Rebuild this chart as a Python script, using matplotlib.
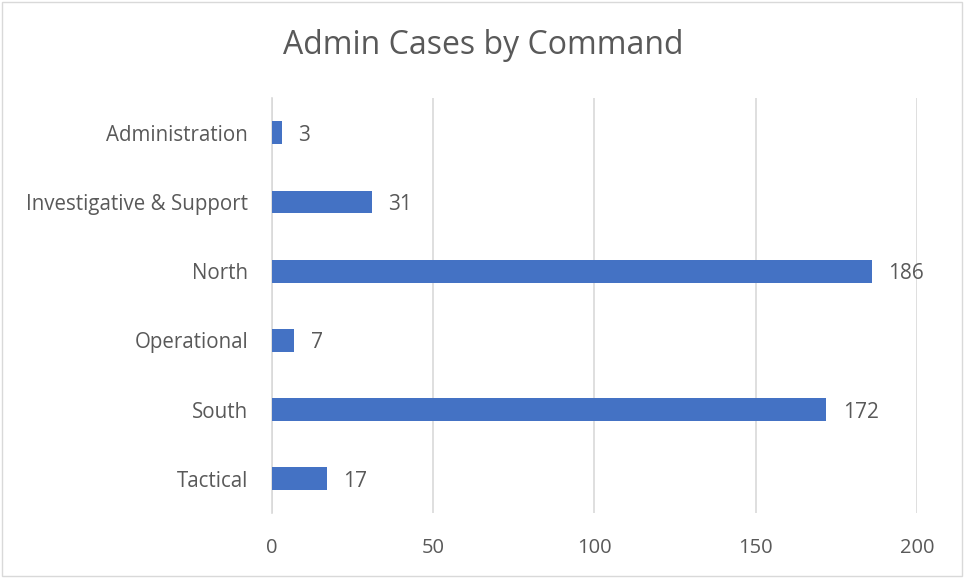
import matplotlib.pyplot as plt
from matplotlib.patches import Rectangle

plt.rcParams['font.family'] = ['Open Sans', 'DejaVu Sans']

commands = ['Administration', 'Investigative & Support', 'North', 'Operational', 'South', 'Tactical']
cases = [3, 31, 186, 7, 172, 17]
x_ticks = [0, 50, 100, 150, 200]

text_color = '#595959'
bar_color = '#4472C4'
grid_color = '#D9D9D9'

fig = plt.figure(figsize=(9.64, 5.78), dpi=100)
ax = fig.add_axes([0.282, 0.112, 0.669, 0.718])

# frame around the whole chart, like the Excel chart area
fig.patches.append(Rectangle((0.002, 0.003), 0.996, 0.994, transform=fig.transFigure,
                             fill=False, edgecolor='#D9D9D9', linewidth=1))

pos = list(range(len(commands)))
ax.barh(pos, cases, height=0.33, color=bar_color, zorder=3)
for p, v in zip(pos, cases):
    ax.text(v + 5, p, str(v), va='center_baseline', ha='left', fontsize=15, color=text_color)

ax.set_ylim(len(commands) - 0.5, -0.5)
ax.set_yticks(pos)
ax.set_yticklabels(commands, fontsize=14.8, color=text_color)
ax.set_xlim(0, 200)
ax.set_xticks(x_ticks)
ax.set_xticklabels([str(t) for t in x_ticks], fontsize=14.5, color=text_color)
ax.tick_params(axis='both', length=0)
ax.tick_params(axis='x', pad=18)
ax.tick_params(axis='y', pad=17)

ax.grid(axis='x', color=grid_color, linewidth=1.2, zorder=0)
for s in ['top', 'right', 'bottom']:
    ax.spines[s].set_visible(False)
ax.spines['left'].set_color(grid_color)
ax.spines['left'].set_linewidth(1.2)

fig.text(0.501, 0.922, 'Admin Cases by Command', ha='center', va='center',
         fontsize=23, color=text_color)

fig.savefig('out.png', dpi=100)
